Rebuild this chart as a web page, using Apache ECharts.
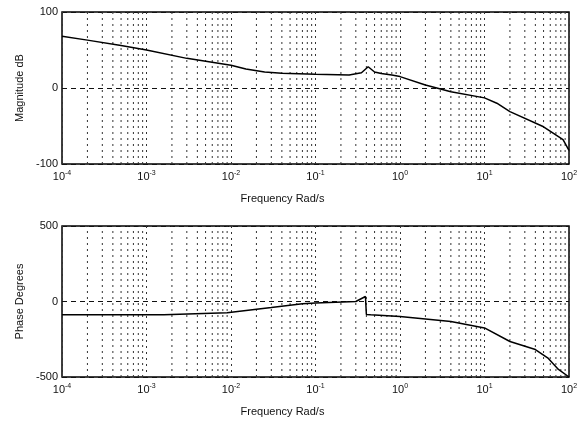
<!DOCTYPE html>
<html>
<head>
<meta charset="utf-8">
<script src="https://cdn.jsdelivr.net/npm/echarts@6/dist/echarts.min.js"></script>
<style>
  html, body { margin: 0; padding: 0; background: #fff; }
  #chart { width: 586px; height: 422px; }
</style>
</head>
<body>
<div id="chart"></div>
<script>
// ---- data ----
var magFreq  = [1e-4, 2e-4, 5e-4, 1e-3, 3e-3, 1e-2, 1.5e-2, 2.5e-2, 4e-2, 0.1, 0.25, 0.35, 0.42, 0.5, 0.6, 0.8, 1, 2, 4, 10, 14, 20, 50, 85, 100];
var magDb    = [68, 63, 56, 50, 39, 30, 25, 21, 19.5, 18, 17, 20, 28, 21, 19, 17, 15, 4, -5, -13, -20, -31, -51, -68, -82];

var phaseFreq = [1e-4, 1e-3, 1.6e-3, 9e-3, 0.03, 0.07, 0.1, 0.3, 0.39, 0.4, 0.45, 1, 4, 10, 20, 40, 57, 75, 100];
var phaseDeg  = [-88, -88, -88, -75, -40, -15, -10, 0, 33, -86, -88, -100, -133, -175, -265, -318, -377, -450, -500];

var decadeExp   = [-4, -3, -2, -1, 0, 1];
var minorMult   = [2, 3, 4, 5, 6, 7, 8, 9];
var magTicks    = [-100, 0, 100];
var phaseTicks  = [-500, 0, 500];

// 小刻度网格 (2..9 × 10^n)，用断开的折线画
function minorGridData(ticks) {
  var lo = ticks[0], hi = ticks[ticks.length - 1];
  var out = [];
  decadeExp.forEach(function(e) {
    minorMult.forEach(function(m) {
      var f = m * Math.pow(10, e);
      out.push([f, lo], [f, hi], [f, "-"]);
    });
  });
  return out;
}

var INK = "#111";
var FONT = "'Liberation Sans', Arial, sans-serif";
var DOT = { color: "#333", type: [2, 4], width: 1 };

function xAxisOpt(gridIndex) {
  return {
    type: "log",
    logBase: 10,
    gridIndex: gridIndex,
    min: 1e-4,
    max: 100,
    splitNumber: 6,
    name: "Frequency Rad/s",
    nameLocation: "middle",
    nameGap: 29,
    nameTextStyle: { fontFamily: FONT, fontSize: 11, color: INK, padding: [0, 66, 0, 0] },
    axisLine: { show: false },
    axisTick: { show: false },
    axisLabel: {
      margin: 6,
      formatter: function(v) {
        var e = Math.round(Math.log(v) / Math.LN10);
        return "{b|10}{s|" + e + "}";
      },
      rich: {
        b: { fontFamily: FONT, fontSize: 11, color: INK },
        s: { fontFamily: FONT, fontSize: 7, color: INK, padding: [0, 0, 7, 0] }
      }
    },
    splitLine: { show: true, lineStyle: DOT }
  };
}

function yAxisOpt(gridIndex, ticks, name) {
  return {
    type: "value",
    gridIndex: gridIndex,
    min: ticks[0],
    max: ticks[ticks.length - 1],
    interval: ticks[1] - ticks[0],
    name: name,
    nameLocation: "middle",
    nameGap: 33,
    nameTextStyle: { fontFamily: FONT, fontSize: 11, color: INK },
    axisLine: { show: false },
    axisTick: { show: false },
    axisLabel: { fontFamily: FONT, fontSize: 11, color: INK, margin: 4 },
    splitLine: { show: true, lineStyle: { color: INK, type: [5, 4], width: 1.2 } }
  };
}

function curve(idx, fr, vals) {
  return {
    type: "line",
    xAxisIndex: idx,
    yAxisIndex: idx,
    data: fr.map(function(f, i) { return [f, vals[i]]; }),
    showSymbol: false,
    symbol: "none",
    lineStyle: { color: "#000", width: 1.5 },
    z: 5,
    silent: true
  };
}

function minorGrid(idx, ticks) {
  return {
    type: "line",
    xAxisIndex: idx,
    yAxisIndex: idx,
    data: minorGridData(ticks),
    connectNulls: false,
    showSymbol: false,
    symbol: "none",
    lineStyle: DOT,
    z: 1,
    silent: true
  };
}

var chart = echarts.init(document.getElementById("chart"));
chart.setOption({
  animation: false,
  grid: [
    { left: 62, right: 17, top: 12, height: 152, show: true, borderColor: "#000", borderWidth: 1.5, backgroundColor: "transparent" },
    { left: 62, right: 17, top: 226, height: 151, show: true, borderColor: "#000", borderWidth: 1.5, backgroundColor: "transparent" }
  ],
  xAxis: [xAxisOpt(0), xAxisOpt(1)],
  yAxis: [yAxisOpt(0, magTicks, "Magnitude dB"), yAxisOpt(1, phaseTicks, "Phase Degrees")],
  series: [
    minorGrid(0, magTicks), minorGrid(1, phaseTicks),
    curve(0, magFreq, magDb), curve(1, phaseFreq, phaseDeg)
  ]
});
</script>
</body>
</html>
